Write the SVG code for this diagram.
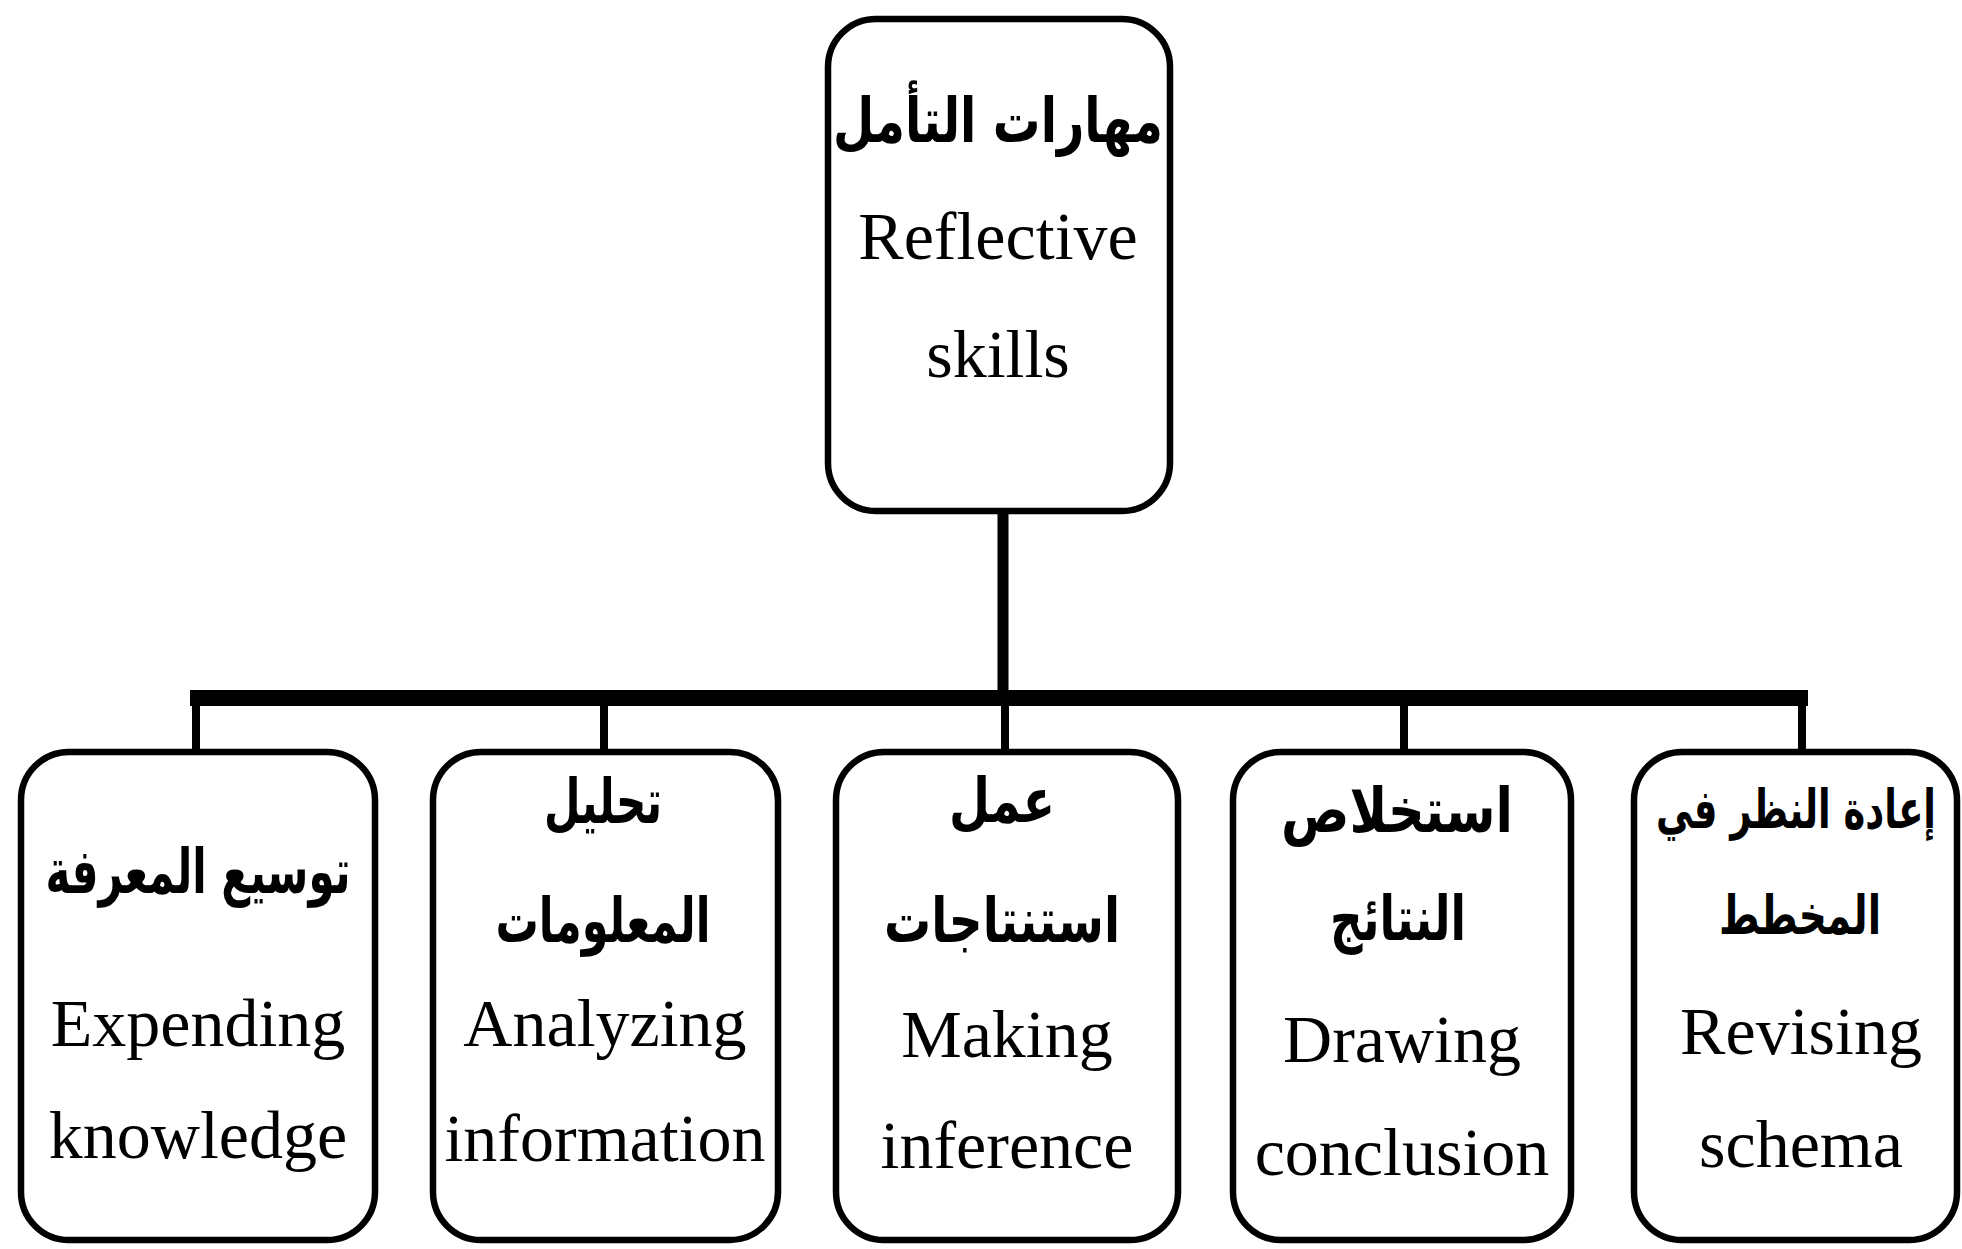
<svg xmlns="http://www.w3.org/2000/svg" width="1962" height="1249" viewBox="0 0 1962 1249">
<style>
.box{fill:#fff;stroke:#000;stroke-width:6.5}
.en{font-family:"Liberation Serif","Times New Roman",serif;font-size:68px;fill:#000;text-anchor:middle}
.ar{font-family:"DejaVu Sans",sans-serif;font-size:62px;font-weight:bold;fill:#000;text-anchor:middle}
.ar.sm{font-size:54px}
.ln{stroke:#000;fill:none;stroke-linecap:butt}
</style>
<rect width="1962" height="1249" fill="#fff"/>
<g id="connectors">
<line class="ln" x1="1003" y1="511" x2="1003" y2="698" stroke-width="11"/>
<line class="ln" x1="190" y1="698" x2="1808" y2="698" stroke-width="16"/>
<line class="ln" x1="196" y1="698" x2="196" y2="752" stroke-width="8"/>
<line class="ln" x1="604" y1="698" x2="604" y2="752" stroke-width="8"/>
<line class="ln" x1="1005" y1="698" x2="1005" y2="752" stroke-width="8"/>
<line class="ln" x1="1404" y1="698" x2="1404" y2="752" stroke-width="8"/>
<line class="ln" x1="1802" y1="698" x2="1802" y2="752" stroke-width="8"/>
</g>
<g id="root">
<rect class="box" x="828" y="19" width="342" height="492" rx="48"/>
<text class="ar" x="998" y="142" textLength="330" lengthAdjust="spacingAndGlyphs">مهارات التأمل</text>
<text class="en" x="998" y="259">Reflective</text>
<text class="en" x="998" y="377">skills</text>
</g>
<g id="expending">
<rect class="box" x="21" y="752" width="354" height="488" rx="48"/>
<text class="ar" x="198" y="893" textLength="305" lengthAdjust="spacingAndGlyphs">توسيع المعرفة</text>
<text class="en" x="198" y="1046">Expending</text>
<text class="en" x="198" y="1158">knowledge</text>
</g>
<g id="analyzing">
<rect class="box" x="433" y="752" width="345" height="488" rx="48"/>
<text class="ar" x="603" y="823" textLength="118" lengthAdjust="spacingAndGlyphs">تحليل</text>
<text class="ar" x="603" y="942" textLength="215" lengthAdjust="spacingAndGlyphs">المعلومات</text>
<text class="en" x="605" y="1046">Analyzing</text>
<text class="en" x="605" y="1161">information</text>
</g>
<g id="making">
<rect class="box" x="836" y="752" width="342" height="488" rx="48"/>
<text class="ar" x="1002" y="822" textLength="106" lengthAdjust="spacingAndGlyphs">عمل</text>
<text class="ar" x="1002" y="942" textLength="236" lengthAdjust="spacingAndGlyphs">استنتاجات</text>
<text class="en" x="1007" y="1057">Making</text>
<text class="en" x="1007" y="1168">inference</text>
</g>
<g id="drawing">
<rect class="box" x="1233" y="752" width="338" height="488" rx="48"/>
<text class="ar" x="1397" y="832" textLength="232" lengthAdjust="spacingAndGlyphs">استخلاص</text>
<text class="ar" x="1398" y="940" textLength="136" lengthAdjust="spacingAndGlyphs">النتائج</text>
<text class="en" x="1402" y="1062">Drawing</text>
<text class="en" x="1402" y="1175">conclusion</text>
</g>
<g id="revising">
<rect class="box" x="1634" y="752" width="323" height="488" rx="48"/>
<text class="ar sm" x="1796" y="828" textLength="280" lengthAdjust="spacingAndGlyphs">إعادة النظر في</text>
<text class="ar sm" x="1800" y="934" textLength="162" lengthAdjust="spacingAndGlyphs">المخطط</text>
<text class="en" x="1801" y="1054">Revising</text>
<text class="en" x="1801" y="1167">schema</text>
</g>
</svg>
